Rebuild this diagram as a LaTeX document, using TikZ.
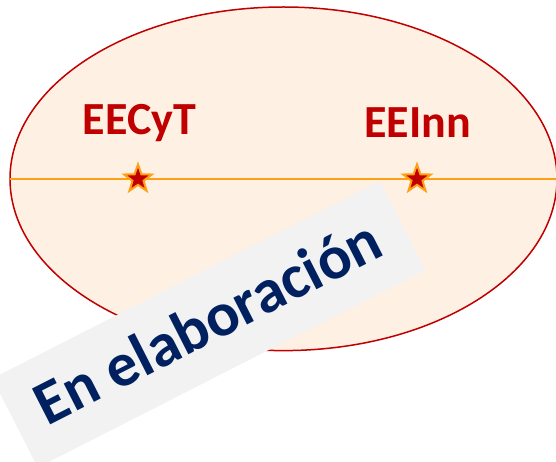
\documentclass[tikz,border=0pt]{standalone}
\usepackage{fontspec}
\setmainfont{Carlito}
\usetikzlibrary{shapes.geometric}
\definecolor{rojo}{RGB}{192,0,0}
\definecolor{naranja}{RGB}{255,160,20}
\definecolor{durazno}{RGB}{254,240,226}
\definecolor{azul}{RGB}{0,32,96}
\definecolor{gris}{RGB}{242,242,242}
\tikzset{estrella/.style={star,star points=5,star point ratio=2.5,fill=rojo,draw=naranja,line width=2pt,minimum size=29pt,inner sep=0pt},
  etiqueta/.style={text=rojo,font=\fontsize{46}{46}\selectfont\bfseries,anchor=base}}

\begin{document}
\begin{tikzpicture}[x=1pt,y=1pt]
              \useasboundingbox (0,0) rectangle (556,-462);
              \clip (0,0) rectangle (556,-462);
              \draw[rojo,fill=durazno,line width=1.5pt](283.5,-178.8) ellipse (273.5 and 171.8);
              \coordinate (izq) at (10,-179);
              \coordinate (der) at (556,-179);
              \draw[naranja,line width=2pt](izq)--(der);
              \node[estrella](eecyt)at(138,-179){};
              \node[estrella](eeinn)at(417,-179){};
              \node[etiqueta](lbla)at(139.5,-135){EECyT};
              \node[etiqueta](lblb)at(417.5,-138){EEInn};
              \begin{scope}[shift={(208.9,-324.3)},rotate=27]
                \fill[gris](-217.5,-50)rectangle(217.5,50);
                \node[transform shape,text=azul,anchor=base,font=\fontsize{62}{62}\selectfont\bfseries](aviso)at(0,-18){En elaboración};
              \end{scope}
            \end{tikzpicture}
\end{document}
